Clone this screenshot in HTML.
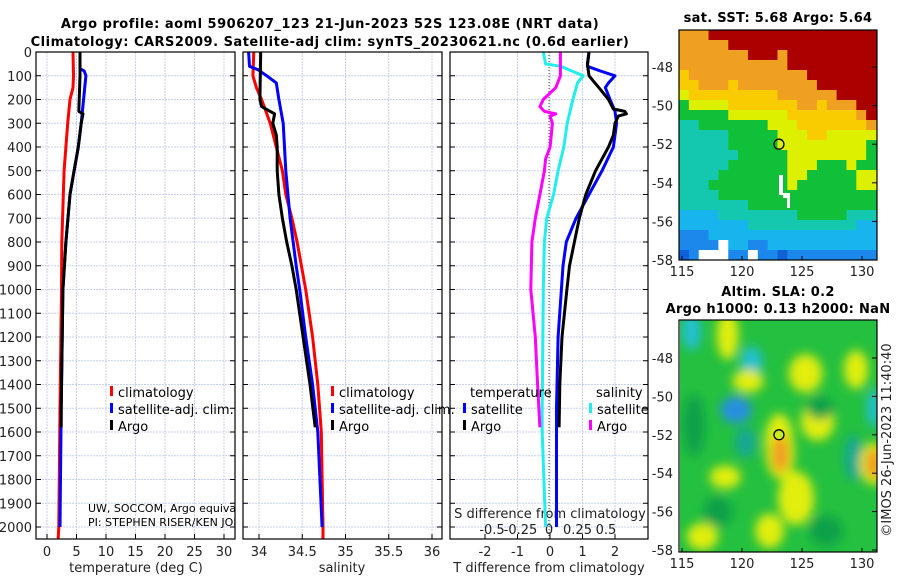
<!DOCTYPE html>
<html><head><meta charset="utf-8"><style>
body{margin:0;background:#fff}
svg{display:block;font-family:"DejaVu Sans","Liberation Sans",sans-serif}
.t{font-size:13px;fill:#222}
.b{font-size:13px;font-weight:bold;fill:#000;letter-spacing:0.5px}
.bm{font-size:13px;font-weight:bold;fill:#000;letter-spacing:0.3px}
.lg{font-size:13px;fill:#000}
</style></head><body>
<svg id="c" width="900" height="580" viewBox="0 0 900 580" xmlns="http://www.w3.org/2000/svg">
<defs><filter id="bl" x="-20%" y="-20%" width="140%" height="140%"><feGaussianBlur stdDeviation="5"/></filter>
<clipPath id="m2c"><rect x="680" y="320" width="197" height="232"/></clipPath>
<clipPath id="p1c"><rect x="36" y="52" width="199" height="487"/></clipPath>
<clipPath id="p2c"><rect x="243" y="52" width="199" height="487"/></clipPath>
<clipPath id="p3c"><rect x="450" y="52" width="198" height="487"/></clipPath></defs>
<text class="b" x="330" y="28" text-anchor="middle">Argo profile: aoml 5906207_123 21-Jun-2023 52S 123.08E (NRT data)</text>
<text class="b" x="330" y="46" text-anchor="middle">Climatology: CARS2009. Satellite-adj clim: synTS_20230621.nc (0.6d earlier)</text>
<text class="bm" x="778" y="22" text-anchor="middle">sat. SST: 5.68 Argo: 5.64</text>
<text class="bm" x="778" y="296" text-anchor="middle">Altim. SLA: 0.2</text>
<text class="bm" x="778" y="313" text-anchor="middle">Argo h1000: 0.13 h2000: NaN</text>
<text class="t" x="0" y="0" transform="translate(891,440) rotate(-90)" text-anchor="middle">©IMOS 26-Jun-2023 11:40:40</text>
<g id="g"></g>
</svg>
<script>
// ---- profile data (depth in m) ----
const tClimD=[0,100,150,200,300,500,800,1000,1500,2000,2050];
const tClimV=[4.4,4.5,4.4,3.9,3.5,2.9,2.5,2.45,2.2,2.0,1.9];
const tSatD=[0,70,80,100,300,400,500,600,800,1000,1500,2000];
const tSatV=[5.6,5.6,6.3,6.6,5.8,5.3,4.6,3.9,3.2,2.7,2.4,2.2];
const tArgoD=[0,100,240,250,260,300,400,500,600,800,1000,1500,1580];
const tArgoV=[5.6,5.6,5.4,5.4,6.1,5.8,5.3,4.6,3.9,3.2,2.7,2.4,2.4];
const sClimD=[0,100,150,200,300,400,500,600,700,800,1000,1200,1400,1600,2000,2050];
const sClimV=[33.94,33.93,33.97,34.03,34.13,34.2,34.27,34.31,34.38,34.44,34.54,34.62,34.68,34.72,34.74,34.74];
const sSatD=[0,60,75,100,130,200,300,500,700,900,1000,1200,1400,1600,2000];
const sSatV=[33.88,33.89,33.99,34.09,34.2,34.23,34.28,34.31,34.36,34.43,34.47,34.54,34.62,34.68,34.73];
const sArgoD=[0,200,230,250,260,300,350,400,500,600,700,800,900,1000,1200,1400,1580];
const sArgoV=[34.02,34.01,34.03,34.13,34.18,34.16,34.2,34.21,34.21,34.23,34.27,34.32,34.38,34.43,34.51,34.59,34.65];
const dtSatD=[0,60,80,100,130,150,200,250,300,400,500,600,700,800,900,1000,1200,1500,2000];
const dtSatV=[1.2,1.15,1.55,2.0,1.8,1.7,1.85,2.0,2.05,1.95,1.6,1.2,0.8,0.5,0.4,0.35,0.25,0.2,0.2];
const dtArgoD=[0,50,100,150,200,240,250,260,270,300,350,400,500,600,700,800,900,1000,1200,1400,1580];
const dtArgoV=[1.2,1.15,1.2,1.5,1.8,1.95,2.3,2.35,2.1,2.0,1.95,1.8,1.4,1.1,0.9,0.75,0.6,0.52,0.37,0.3,0.28];
const dsSatD=[0,50,60,100,130,200,300,400,500,600,700,800,1000,1500,1600,2000];
const dsSatV=[-0.05,-0.03,0.1,0.3,0.25,0.21,0.16,0.13,0.08,0.04,-0.02,-0.04,-0.05,-0.06,-0.06,-0.03];
const dsArgoD=[0,100,150,200,230,250,260,270,300,400,450,500,600,700,800,1000,1200,1400,1580];
const dsArgoV=[0.1,0.1,0.06,-0.05,-0.08,-0.04,0.06,0.01,0.03,0.01,-0.03,-0.04,-0.08,-0.12,-0.15,-0.16,-0.12,-0.1,-0.08];
const depthTicks=[0,100,200,300,400,500,600,700,800,900,1000,1100,1200,1300,1400,1500,1600,1700,1800,1900,2000];
const tTicks=[0,5,10,15,20,25,30];
const sTicks=[34,34.5,35,35.5,36];
const sTickLbl=["34","34.5","35","35.5","36"];
const dtTicks=[-2,-1,0,1,2];
const dsTicks=[-0.5,-0.25,0,0.25,0.5];
const dsTickLbl=["-0.5","-0.25","0","0.25","0.5"];
const mapLatTicks=[-48,-50,-52,-54,-56,-58];
const mapLonTicks=[115,120,125,130];
// SST map colour grid (20 cols x 23 rows)
const sstRows=[
"OOORRRRRRRRRRRRRRRRR","OOOOORRRRRRRRRRRRRRR","OOOOOOORRRORRRRRRRRR","OOOOOOOOOOORRRRRRRRR",
"YOOOOOOOOOOOORRRRRRR","YYOOOYOOOOOOOORRRRRR","LYYYYYYYYYOOOOOORRRR","GLLLLYYYYYYYOOYOOORR",
"GGGGGLLLLLLYYYYYYYOR","TTGGGGGGGLLLYYYYYYYO","TTTTTGGGGGLLLYYLLLLL","TTTTTGGGGGLLLLLLLLLG",
"TTTTTTGGGGGLLLLLLLLG","TTTTTGGGGGGLLLGGGLGG","TTTTGGGGGGGLLGGGGGLL","TTTGGGGGGGGLGGGGGGLL",
"TTTTGGGGGGGGGGGGGGGG","TTTTTTTGGGGGGGGGGGGG","CCCCTTTTTTTTGGGGGTTT","CCCCCCCTTTTTTTTTTTCC",
"BBBCCCCCCCCCCCCCCCCC","BBBBWCCBBCCCCCCCCCCC","DBWWWBBWBBDBBBBBBBBB"];
// SLA map blobs: lon, lat, radius-lon, radius-lat, colour key
const slaLon=[115.8,120.8,119.5,120.3,118.8,120.5,125.3,123.1,123.2,126.3,124.5,118.6,116.7,122.3,129.5,131,129.3,131,116,126.5,118,127];
const slaLat=[-46.6,-48.2,-50.7,-52.4,-46.8,-49.2,-48.8,-52.4,-53,-51.3,-55.3,-54.2,-57.3,-57,-48.6,-50.6,-53.2,-53.5,-51.5,-50.6,-56,-57];
const slaRx=[0.8,0.9,1.3,0.9,0.9,1.3,1.4,1.2,0.7,1.4,1.5,1.3,1.3,1.2,1.0,0.6,0.8,0.7,0.9,1.1,1.2,1.4];
const slaRy=[1.0,0.8,0.7,0.8,1.3,0.6,1.0,1.5,1.0,1.0,1.4,0.6,0.7,0.9,1.0,1.0,1.2,0.8,1.6,0.6,0.8,0.8];
const slaCol=["C","C","B","T","Y","Y","Y","Y","O","Y","Y","Y","Y","Y","Y","C","T","O","D","D","D","D"];

const NS='http://www.w3.org/2000/svg';
const G=document.getElementById('g');
function mk(tag,at,parent){const e=document.createElementNS(NS,tag);for(const k in at)e.setAttribute(k,at[k]);(parent||G).appendChild(e);return e;}
const depthY=d=>52+d*0.2375;
const tx=v=>47+5.9*v, sx=v=>259+86.5*(v-34), dtx=v=>550+32.5*v, dsx=v=>549+114*v;
const panels=[{x0:36,x1:235,n:'temperature'},{x0:243,x1:442,n:'salinity'},{x0:450,x1:648,n:'difference'}];
panels.forEach((p,i)=>{
  depthTicks.forEach(d=>{const y=depthY(d);
    const l=mk('line',{x1:p.x0,x2:p.x1,y1:y,y2:y,stroke:'#c8cff0','stroke-width':1,'stroke-dasharray':'2,1'});
    
    mk('line',{x1:p.x0,x2:p.x0+5,y1:y,y2:y,stroke:'#000'});mk('line',{x1:p.x1-5,x2:p.x1,y1:y,y2:y,stroke:'#000'});
  });
  const vt = i==0?tTicks.map(tx):i==1?sTicks.map(sx):dtTicks.map(dtx);
  vt.forEach(x=>{const l=mk('line',{x1:x,x2:x,y1:52,y2:539,stroke:'#c8cff0','stroke-width':1,'stroke-dasharray':'2,1'});
    
    mk('line',{x1:x,x2:x,y1:534,y2:539,stroke:'#000'});});
});
mk('line',{x1:549,x2:549,y1:52,y2:539,stroke:'#444','stroke-dasharray':'1,2'});
depthTicks.forEach(d=>{const t=mk('text',{x:32,y:depthY(d)+5,'text-anchor':'end',class:'t'});t.textContent=d;
  });
tTicks.forEach(v=>{const t=mk('text',{x:tx(v),y:556,'text-anchor':'middle',class:'t'});t.textContent=v;
  });
sTicks.forEach((v,i)=>{const t=mk('text',{x:sx(v),y:556,'text-anchor':'middle',class:'t'});t.textContent=sTickLbl[i];
  });
dtTicks.forEach(v=>{const t=mk('text',{x:dtx(v),y:556,'text-anchor':'middle',class:'t'});t.textContent=v;
  });
dsTicks.forEach((v,i)=>{const t=mk('text',{x:dsx(v),y:534,'text-anchor':'middle',class:'t'});t.textContent=dsTickLbl[i];
  });
[['temperature (deg C)',136],['salinity',342],['T difference from climatology',549]].forEach(a=>{
  const t=mk('text',{x:a[1],y:572,'text-anchor':'middle',class:'t'});t.textContent=a[0];
  });
const st=mk('text',{x:550,y:518,'text-anchor':'middle',class:'t'});st.textContent='S difference from climatology';

function series(D,V,f,col,clip,name){
  const pts=D.map((d,i)=>f(V[i]).toFixed(1)+','+depthY(d).toFixed(1)).join(' ');
  const l=mk('polyline',{points:pts,fill:'none',stroke:col,'stroke-width':3,'stroke-linejoin':'round','clip-path':'url(#'+clip+')'});
  }
series(tClimD,tClimV,tx,'#ff0000','p1c','temperature-climatology-line');
series(tSatD,tSatV,tx,'#0000ff','p1c','temperature-satellite-line');
series(tArgoD,tArgoV,tx,'#000','p1c','temperature-argo-line');
series(sClimD,sClimV,sx,'#ff0000','p2c','salinity-climatology-line');
series(sSatD,sSatV,sx,'#0000ff','p2c','salinity-satellite-line');
series(sArgoD,sArgoV,sx,'#000','p2c','salinity-argo-line');
series(dsSatD,dsSatV,dsx,'#22eeee','p3c','s-diff-satellite-line');
series(dsArgoD,dsArgoV,dsx,'#ff00ff','p3c','s-diff-argo-line');
series(dtSatD,dtSatV,dtx,'#0000ff','p3c','t-diff-satellite-line');
series(dtArgoD,dtArgoV,dtx,'#000','p3c','t-diff-argo-line');
panels.forEach(p=>{const r=mk('rect',{x:p.x0,y:52,width:p.x1-p.x0,height:487,fill:'none',stroke:'#000','stroke-width':1.2});
  });
function leg(x,y,col,txt,name){mk('rect',{x:x,y:y-11,width:3,height:10,fill:col});
  const t=mk('text',{x:x+8,y:y,class:'lg'});t.textContent=txt;
  }
leg(110,397,'#ff0000','climatology','legend-climatology');leg(110,414,'#0000ff','satellite-adj. clim.','legend-satellite');leg(110,431,'#000','Argo','legend-argo');
leg(331,397,'#ff0000','climatology','legend-climatology');leg(331,414,'#0000ff','satellite-adj. clim.','legend-satellite');leg(331,431,'#000','Argo','legend-argo');
let tt=mk('text',{x:470,y:397,class:'lg'});tt.textContent='temperature';
tt=mk('text',{x:596,y:397,class:'lg'});tt.textContent='salinity';
leg(463,414,'#0000ff','satellite','legend-t-satellite');leg(463,431,'#000','Argo','legend-t-argo');
leg(589,414,'#22eeee','satellite','legend-s-satellite');leg(589,431,'#ff00ff','Argo','legend-s-argo');
const ng=mk('g',{'clip-path':'url(#p1c)'});
let n1=mk('text',{x:88,y:512,style:'font-size:11px',fill:'#000'},ng);n1.textContent='UW, SOCCOM, Argo equivalent';
n1=mk('text',{x:88,y:526,style:'font-size:11px',fill:'#000'},ng);n1.textContent='PI: STEPHEN RISER/KEN JOHNSON';
// ---- maps ----
const COL={R:'#aa0000',O:'#f0a020',Y:'#f8cc00',L:'#dcf000',G:'#10c038',T:'#14c8b0',C:'#18b4ee',B:'#1c88ec',D:'#1060d8',W:'#ffffff'};
sstRows.forEach((row,r)=>{for(let c=0;c<row.length;c++){const rc=mk('rect',{x:679+c*9.85,y:30+r*10,width:10.4,height:10.5,fill:COL[row[c]]});
  }});
mk('rect',{x:779,y:175,width:4,height:20,fill:'#fff'});mk('rect',{x:783,y:193,width:7,height:5,fill:'#fff'});mk('rect',{x:787,y:196,width:3,height:12,fill:'#fff'});
function mapFrame(y0,h,lonX,latY,name){
  const f=mk('rect',{x:679,y:y0,width:198,height:h,fill:'none',stroke:'#000','stroke-width':1.2});
  
  mapLatTicks.forEach(v=>{const y=latY(v);mk('line',{x1:877,x2:872,y1:y,y2:y,stroke:'#000'});
    const t=mk('text',{x:673,y:y+5,'text-anchor':'end',class:'t'});t.textContent=v;});
  mapLonTicks.forEach(v=>{const x=lonX(v);mk('line',{x1:x,x2:x,y1:y0+h,y2:y0+h-4,stroke:'#000'});
    const t=mk('text',{x:x,y:y0+h+16,'text-anchor':'middle',class:'t'});t.textContent=v;});
}
const lonX=v=>682+12*(v-115);
const lat1=v=>67+19.3*(-48-v), lat2=v=>358+19.2*(-48-v);
mapFrame(30,230,lonX,lat1,'sst-map-frame');
let dot=mk('circle',{cx:lonX(123.08),cy:lat1(-52),r:5,fill:'none',stroke:'#000','stroke-width':1.3});
const sg=mk('g',{'clip-path':'url(#m2c)'});
mk('rect',{x:670,y:310,width:220,height:260,fill:'#24c040'},sg);
const bg=mk('g',{filter:'url(#bl)'},sg);
const SC={C:'#20c0d0',B:'#2890e0',T:'#18a890',Y:'#e2ee10',O:'#f09a20',D:'#10a048'};
slaLon.forEach((lo,i)=>{
  if(slaCol[i]=='O'){mk('ellipse',{cx:lonX(lo),cy:lat2(slaLat[i]),rx:slaRx[i]*12+6,ry:slaRy[i]*19.2+6,fill:'#e2ee10'},bg);}
  const e=mk('ellipse',{cx:lonX(lo),cy:lat2(slaLat[i]),rx:slaRx[i]*12,ry:slaRy[i]*19.2,fill:SC[slaCol[i]]},bg);
  
});
mapFrame(320,232,lonX,lat2,'sla-map-frame');
dot=mk('circle',{cx:lonX(123.08),cy:lat2(-52),r:5,fill:'#c8ec20',stroke:'#000','stroke-width':1.3});
</script>
</body></html>
